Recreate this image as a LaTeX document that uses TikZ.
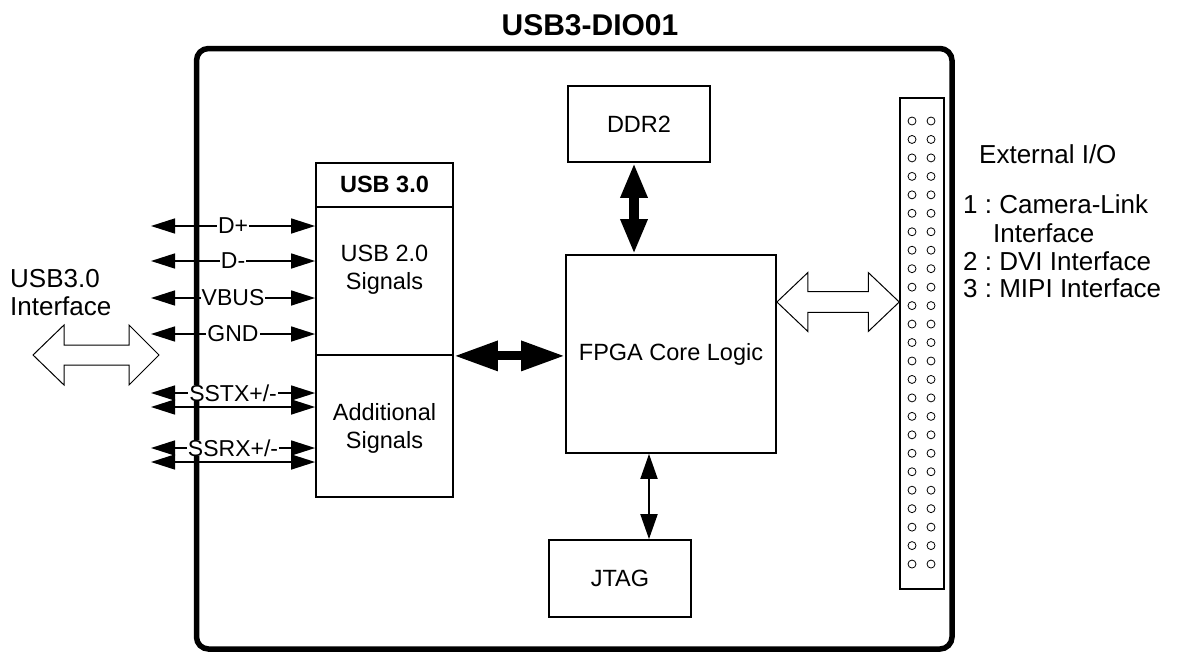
\documentclass[tikz,border=0pt]{standalone}
\usepackage{fontspec}
\setmainfont{Liberation Sans}
\usetikzlibrary{arrows.meta,calc}
\frenchspacing
\begin{document}
\begin{tikzpicture}[x=1pt,y=-1pt,
  box/.style={draw, line width=1.8pt, inner sep=0pt},
  txt/.style={font=\fontsize{23.5}{28}\selectfont, align=center, inner sep=0pt},
  rtxt/.style={font=\fontsize{26}{28}\selectfont, inner sep=0pt, anchor=base west},
  sig/.style={line width=1.5pt, {Triangle[length=24pt,width=15pt]}-{Triangle[length=24pt,width=15pt]}},
  siglbl/.style={fill=white, inner xsep=1pt, inner ysep=0pt, font=\fontsize{23}{26}\selectfont},
  bold arrow/.style={line width=9pt, {Triangle[length=44pt,width=28pt]}-{Triangle[length=44pt,width=28pt]}},
  bold varrow/.style={line width=10pt, {Triangle[length=35pt,width=25pt]}-{Triangle[length=35pt,width=25pt]}},
  thin arrow/.style={line width=2pt, {Triangle[length=25pt,width=17pt]}-{Triangle[length=25pt,width=17pt]}},
  hollow/.style={draw, line width=1pt, fill=white, line join=miter},
  pin/.style={draw, line width=0.8pt}
]
\useasboundingbox (0,0) rectangle (1177,653);

% outer board
\draw[line width=5.5pt, rounded corners=12pt] (196.5,48.5) rectangle (952,649);
\node[font=\bfseries\fontsize{30}{34}\selectfont, inner sep=0pt, anchor=base] (title) at (590,35) {USB3-DIO01};

% USB 3.0 block
\node[box, minimum width=137pt, minimum height=44pt] (usbh) at (384.5,185) {};
\node[box, minimum width=137pt, minimum height=148pt] (usb2) at (384.5,281) {};
\node[box, minimum width=137pt, minimum height=142pt] (usbadd) at (384.5,426) {};
\node[font=\bfseries\fontsize{23.5}{26}\selectfont, inner sep=0pt, anchor=base] (usbhtxt) at (384.5,192) {USB 3.0};
\node[txt] (usb2txt) at (384.5,270) {USB 2.0\\Signals};
\node[txt] (usbaddtxt) at (384.5,428) {Additional\\Signals};

% other blocks
\node[box, minimum width=142pt, minimum height=76pt, txt] (ddr) at (639,124) {DDR2};
\node[box, minimum width=210pt, minimum height=198pt, txt] (fpga) at (671,354) {FPGA Core Logic};
\node[box, minimum width=142pt, minimum height=77pt, txt] (jtag) at (620,578.5) {JTAG};

% connector
\node[box, line width=1.5pt, minimum width=44pt, minimum height=491pt] (conn) at (922,343.5) {};
\foreach \i in {0,...,24} {
  \draw[pin] (912,121+18.46*\i) circle (4pt);
  \draw[pin] (931,121+18.46*\i) circle (4pt);
}

% right text
\node[rtxt] (ext) at (979,163) {External I/O};
\node[rtxt] (l1) at (963,213) {1 : Camera-Link};
\node[rtxt] (l1b) at (993,242) {Interface};
\node[rtxt] (l2) at (963,270) {2 : DVI Interface};
\node[rtxt] (l3) at (963,297) {3 : MIPI Interface};

% left text
\node[rtxt] (usbif1) at (10,287) {USB3.0};
\node[rtxt] (usbif2) at (10,315) {Interface};

% signal connectors
\coordinate (dp) at (151,226);
\coordinate (dm) at (151,261);
\coordinate (vb) at (151,298);
\coordinate (gn) at (151,334);
\coordinate (tx1) at (151,393);
\coordinate (tx2) at (151,407);
\coordinate (rx1) at (151,448);
\coordinate (rx2) at (151,462);
\draw[sig] (dp) -- (dp -| usb2.west) node[siglbl, midway] {D+};
\draw[sig] (dm) -- (dm -| usb2.west) node[siglbl, midway] {D-};
\draw[sig] (vb) -- (vb -| usb2.west) node[siglbl, midway] {VBUS};
\draw[sig] (gn) -- (gn -| usb2.west) node[siglbl, midway] {GND};
\draw[sig] (tx2) -- (tx2 -| usbadd.west);
\draw[sig] (tx1) -- (tx1 -| usbadd.west) node[siglbl, midway] {SSTX+/-};
\draw[sig] (rx2) -- (rx2 -| usbadd.west);
\draw[sig] (rx1) -- (rx1 -| usbadd.west) node[siglbl, midway] {SSRX+/-};

% bold connectors
\draw[bold arrow] (usb2.south east) -- (usb2.south east -| fpga.west);
\draw[bold varrow] ([xshift=-5pt]ddr.south) -- ([xshift=-5pt]ddr.south |- fpga.north);
\draw[thin arrow] ([xshift=29pt]jtag.north |- fpga.south) -- ([xshift=29pt]jtag.north);

% hollow arrows
\coordinate (hlA) at (33,355);
\coordinate (hlB) at (159,355);
\draw[hollow] (hlA) -- ++(31,-30) -- ++(0,20) -- ($(hlB)+(-30,-10)$) -- ++(0,-20) -- (hlB)
  -- ++(-30,30) -- ++(0,-20) -- ($(hlA)+(31,10)$) -- ++(0,20) -- cycle;
\coordinate (hrA) at ($(fpga.east |- 0,302)$);
\coordinate (hrB) at ($(conn.west |- 0,302)$);
\draw[hollow] (hrA) -- ++(31,-29.5) -- ++(0,19.2) -- ($(hrB)+(-31,-10.3)$) -- ++(0,-19.2) -- (hrB)
  -- ++(-31,29.5) -- ++(0,-19.2) -- ($(hrA)+(31,10.3)$) -- ++(0,19.2) -- cycle;
\end{tikzpicture}
\end{document}
